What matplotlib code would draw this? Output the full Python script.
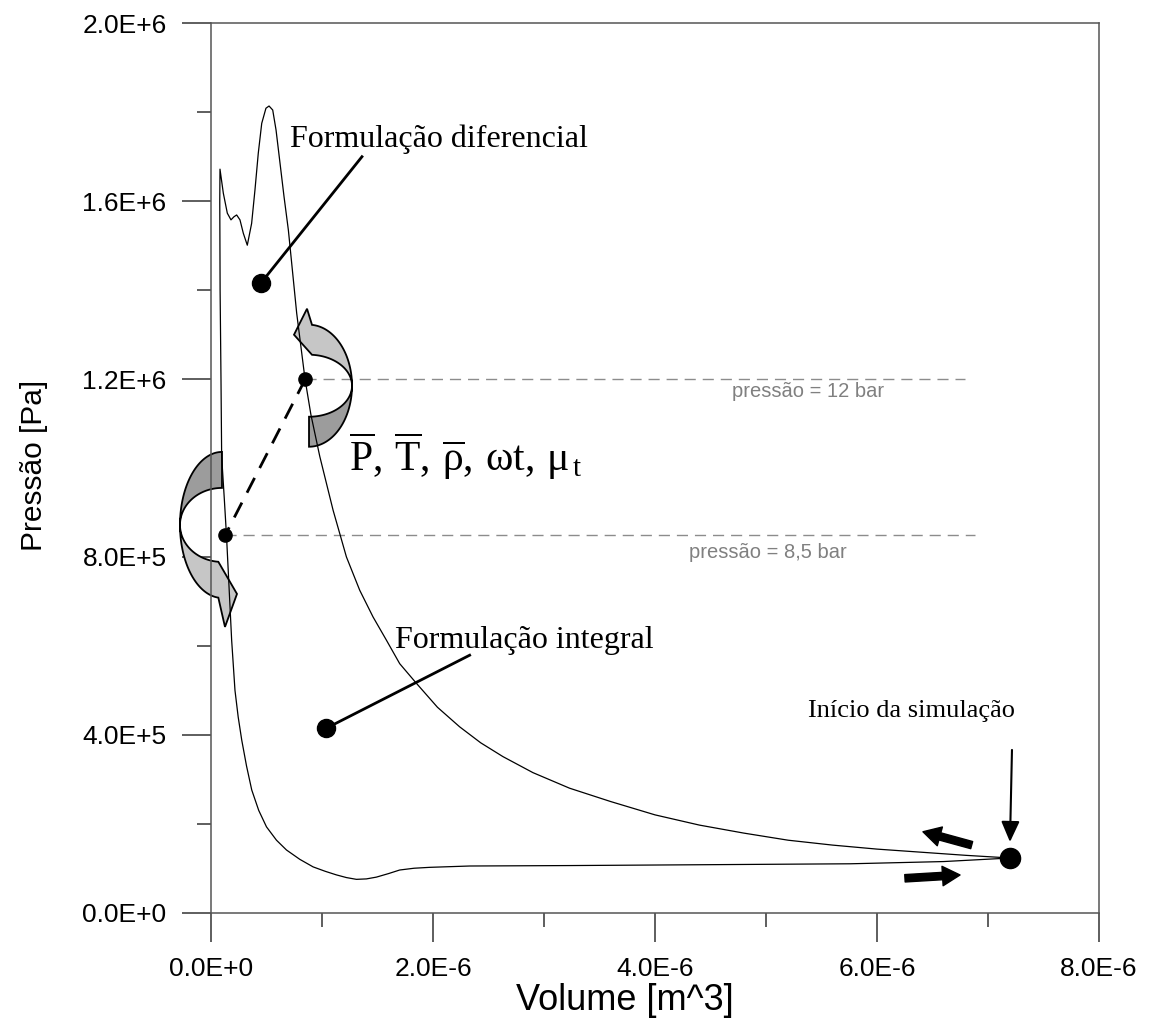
import numpy as np
import matplotlib
matplotlib.use('Agg')
import matplotlib.pyplot as plt
from matplotlib.patches import Polygon, FancyArrowPatch
from matplotlib.ticker import MultipleLocator, FuncFormatter

# P-V cycle (volume in 1E-6 m^3, pressure in 1E+5 Pa)
# starts at the start point, goes left along compression, back along expansion
volume = [7.20, 6.80, 6.40, 6.00, 5.60, 5.20, 4.80, 4.40, 4.00, 3.60, 3.23,
          2.90, 2.63, 2.43, 2.24, 2.04, 1.85, 1.70, 1.58, 1.46, 1.34, 1.22,
          1.10, 0.98, 0.90, 0.847, 0.772, 0.736, 0.697, 0.658, 0.622, 0.586,
          0.556, 0.523, 0.495, 0.457, 0.426, 0.396, 0.366, 0.327, 0.291,
          0.261, 0.231, 0.207, 0.180, 0.147, 0.111, 0.081,
          0.079, 0.082, 0.090, 0.096, 0.12, 0.14, 0.165, 0.186, 0.216, 0.245,
          0.277, 0.32, 0.367, 0.43, 0.50, 0.59, 0.68, 0.80, 0.92, 1.03, 1.13,
          1.22, 1.31, 1.40, 1.49, 1.60, 1.70, 1.83, 1.97, 2.33, 3.23, 4.50,
          5.76, 6.60, 7.20]
pressure = [1.23, 1.29, 1.36, 1.43, 1.52, 1.63, 1.79, 1.97, 2.20, 2.50, 2.80,
            3.15, 3.51, 3.82, 4.18, 4.62, 5.16, 5.60, 6.13, 6.65, 7.25, 8.00,
            9.05, 10.26, 11.20, 12.00, 13.48, 14.38, 15.35, 16.10, 16.85, 17.60,
            18.05, 18.14, 18.09, 17.75, 17.08, 16.25, 15.50, 15.01, 15.28,
            15.58, 15.69, 15.65, 15.58, 15.73, 16.18, 16.72,
            16.00, 14.00, 12.00, 10.26, 9.30, 8.46, 7.20, 6.13, 5.00, 4.40,
            3.88, 3.30, 2.76, 2.30, 1.93, 1.63, 1.41, 1.20, 1.03, 0.93, 0.85,
            0.79, 0.75, 0.76, 0.80, 0.88, 0.96, 1.00, 1.02, 1.05, 1.06, 1.08,
            1.10, 1.15, 1.23]

# reference pressures (Pa)
p_high = 1.2e6
p_low = 8.5e5

V = np.array(volume) * 1e-6
P = np.array(pressure) * 1e5

plt.rcParams['mathtext.fontset'] = 'custom'
plt.rcParams['mathtext.rm'] = 'Liberation Serif'
plt.rcParams['mathtext.it'] = 'Liberation Serif'
plt.rcParams['mathtext.bf'] = 'Liberation Serif:bold'

fig = plt.figure(figsize=(11.52, 10.30), dpi=100)
ax = fig.add_axes([211 / 1152, 117.3 / 1030, 888 / 1152, 889.4 / 1030])
ax.set_xlim(0, 8e-6)
ax.set_ylim(0, 2e6)


def sci_label(v, pos):
    if abs(v) < 1e-20:
        return '0.0E+0'
    e = int(np.floor(np.log10(abs(v)) + 1e-9))
    return f'{v / 10**e:.1f}E{e:+d}'


ax.xaxis.set_major_locator(MultipleLocator(2e-6))
ax.xaxis.set_minor_locator(MultipleLocator(1e-6))
ax.yaxis.set_major_locator(MultipleLocator(4e5))
ax.yaxis.set_minor_locator(MultipleLocator(2e5))
ax.xaxis.set_major_formatter(FuncFormatter(sci_label))
ax.yaxis.set_major_formatter(FuncFormatter(sci_label))
ax.tick_params(which='major', direction='out', length=21, width=1.1, pad=11,
               labelsize=19, color='#333333')
ax.tick_params(which='minor', direction='out', length=10, width=1.1, color='#333333')
for lab in ax.get_xticklabels() + ax.get_yticklabels():
    lab.set_family('Liberation Sans')
for s in ax.spines.values():
    s.set_color('#555555')
    s.set_linewidth(1.1)

ax.set_xlabel('Volume [m^3]', family='Liberation Sans', size=26)
ax.set_ylabel('Pressão [Pa]', family='Liberation Sans', size=21.5)
ax.xaxis.set_label_coords(0.466, -0.079)
ax.yaxis.set_label_coords(-0.184, 0.503)

# main cycle
ax.plot(V, P, color='black', lw=0.9, zorder=3)

# reference pressure lines
ax.plot([0.85e-6, 6.79e-6], [p_high, p_high], color='#8c8c8c', lw=1, dashes=(8, 5), zorder=1)
ax.plot([0.13e-6, 6.88e-6], [p_low, p_low], color='#8c8c8c', lw=1, dashes=(8, 5), zorder=1)
ax.text(5.38e-6, 11.71e5, 'pressão = 12 bar', color='#808080', fontsize=14.5,
        family='Liberation Sans', ha='center', va='center')
ax.text(5.02e-6, 8.11e5, 'pressão = 8,5 bar', color='#808080', fontsize=14.5,
        family='Liberation Sans', ha='center', va='center')


def curved_arrow(center, a, b, w, th0, thmid, th1, head_pts):
    # twisted ribbon arrow, sizes in pixels, dark tail half + light head half
    # head_pts: pixel offsets from center put between outer and inner band ends
    cx, cy = ax.transData.transform(center)

    def edge(t, bb):
        return np.c_[cx + a * np.cos(t), cy + bb * np.sin(t)]

    t_tail = np.radians(np.linspace(th0, thmid, 40))
    t_head = np.radians(np.linspace(thmid, th1, 40))
    tail = np.vstack([edge(t_tail, b + w), edge(t_tail, b - w)[::-1]])
    extra = np.array(head_pts, float) + [cx, cy]
    head = np.vstack([edge(t_head, b + w), extra, edge(t_head, b - w)[::-1]])
    inv = ax.transData.inverted()
    for pts, fc in [(tail, '#9c9c9c'), (head, '#c6c6c6')]:
        ax.add_patch(Polygon(inv.transform(pts), closed=True, fc=fc, ec='black',
                             lw=1.3, zorder=2, clip_on=False, joinstyle='miter'))


curved_arrow((0.883e-6, 11.85e5), 43, 46, 15, -90, 0, 86, [(-2, 77), (-15, 51)])
curved_arrow((0.099e-6, 8.72e5), 42, 55, 18, 90, 180, 265, [(3, -102), (15, -69)])

# dots at the two reference pressures and link between them
ax.plot([0.85e-6, 0.13e-6], [p_high, p_low], color='black', lw=2, dashes=(6, 4), zorder=4)
ax.plot([0.85e-6, 0.13e-6], [p_high, p_low], 'o', color='black', ms=9.5, zorder=5)

ax.text(1.243e-6, 9.93e5,
        r'$\overline{\mathrm{P}},\,\overline{\mathrm{T}},\,\overline{\rho},\,\omega\mathrm{t},\,\mu_{\,\mathrm{t}}$',
        fontsize=30, ha='left', va='baseline')

serif = dict(family='Liberation Serif', color='black')

# differential formulation label
ax.plot([0.45e-6, 1.36e-6], [14.16e5, 17.0e5], color='black', lw=2, zorder=4)
ax.plot([0.45e-6], [14.16e5], 'o', color='black', ms=13, zorder=5)
ax.text(0.712e-6, 17.22e5, 'Formulação diferencial', fontsize=23, ha='left', va='baseline', **serif)

# integral formulation label
ax.plot([1.04e-6, 2.33e-6], [4.15e5, 5.79e5], color='black', lw=2, zorder=4)
ax.plot([1.04e-6], [4.15e5], 'o', color='black', ms=13, zorder=5)
ax.text(1.658e-6, 5.95e5, 'Formulação integral', fontsize=23, ha='left', va='baseline', **serif)

# start of simulation
ax.plot([7.198e-6], [1.23e5], 'o', color='black', ms=14.5, zorder=5)
ax.text(6.315e-6, 4.40e5, 'Início da simulação', fontsize=19, ha='center', va='baseline', **serif)
ax.add_patch(FancyArrowPatch((7.216e-6, 3.66e5), (7.198e-6, 1.59e5),
                             arrowstyle='-|>,head_length=0.9,head_width=0.4',
                             mutation_scale=14, lw=1.5, color='black',
                             shrinkA=0, shrinkB=0, zorder=5))

# direction arrows
for tail, tip in [((6.853e-6, 1.52e5), (6.414e-6, 1.82e5)),
                  ((6.252e-6, 0.774e5), (6.748e-6, 0.848e5))]:
    ax.add_patch(FancyArrowPatch(tail, tip,
                                 arrowstyle='simple,head_length=0.9,head_width=1.0,tail_width=0.38',
                                 mutation_scale=14, color='black',
                                 shrinkA=0, shrinkB=0, zorder=5))

fig.savefig('out.png', dpi=100)
